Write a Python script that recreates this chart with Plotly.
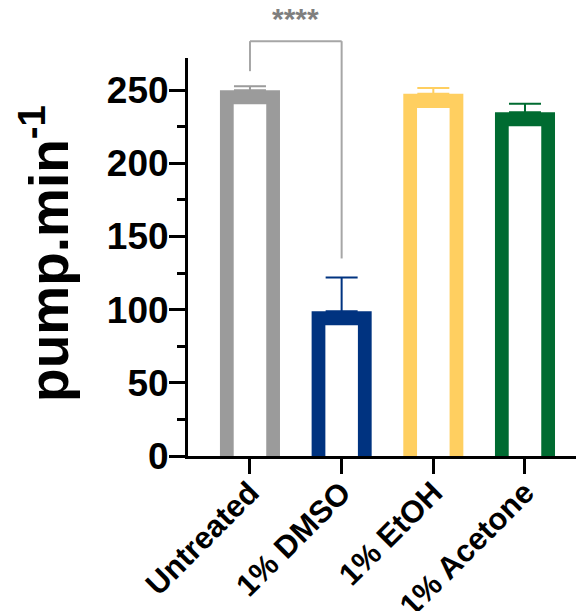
import plotly.graph_objects as go

# ---- data ----
categories = ["Untreated", "1% DMSO", "1% EtOH", "1% Acetone"]
means = [250, 99, 247.5, 235]
errors = [2.7, 23, 4, 5.7]
colors = ["#9B9B9B", "#003380", "#FFCF60", "#006B31"]
y_ticks = [0, 50, 100, 150, 200, 250]
sig_label = "****"
sig_pair = [0, 1]
bracket_top = 283.5
bracket_left_end = 263
bracket_right_end = 135

# ---- style ----
YMAX = 272
BORDER = 9.6          # bar outline thickness in data units
FONT = "Liberation Sans, Arial, sans-serif"

xpos = list(range(len(categories)))
fig = go.Figure()
for i, cat in enumerate(categories):
    fig.add_trace(go.Bar(
        x=[xpos[i]], y=[means[i]], width=0.655,
        marker=dict(color=colors[i], line=dict(width=0)),
        error_y=dict(type="data", array=[errors[i]], arrayminus=[0], symmetric=False,
                     color=colors[i], thickness=2, width=16),
        hoverinfo="skip",
    ))
    fig.add_trace(go.Bar(
        x=[xpos[i]], y=[means[i] - BORDER], width=0.355,
        marker=dict(color="white", line=dict(width=0)),
        hoverinfo="skip",
    ))

# significance bracket
line_style = dict(color="#A6A6A6", width=2)
x0, x1 = sig_pair
fig.add_shape(type="line", xref="x", yref="y domain", x0=x0, x1=x0,
              y0=bracket_left_end / YMAX, y1=bracket_top / YMAX, line=line_style)
fig.add_shape(type="line", xref="x", yref="y domain", x0=x0, x1=x1,
              y0=bracket_top / YMAX, y1=bracket_top / YMAX, line=line_style)
fig.add_shape(type="line", xref="x", yref="y domain", x0=x1, x1=x1,
              y0=bracket_right_end / YMAX, y1=bracket_top / YMAX, line=line_style)
fig.add_annotation(x=(x0 + x1) / 2, xref="x", y=bracket_top / YMAX, yref="y domain",
                   text=sig_label, showarrow=False, yanchor="bottom", yshift=4,
                   font=dict(family=FONT, size=30, color="#7F7F7F", weight="bold"))

# y title
fig.add_annotation(text="<b>pump.min<sup>-1</sup></b>", textangle=-90,
                   xref="paper", yref="paper", x=-0.364, y=0.51,
                   xanchor="center", yanchor="middle", showarrow=False,
                   font=dict(family=FONT, size=55, color="black"))

fig.update_layout(
    width=576, height=603,
    margin=dict(l=180, r=3, t=50, b=155, autoexpand=False),
    plot_bgcolor="white", paper_bgcolor="white",
    barmode="overlay", showlegend=False,
    font=dict(family=FONT, color="black"),
)
fig.update_xaxes(
    automargin=False,
    range=[-0.676, 3.611], tickmode="array", tickvals=xpos, ticktext=categories,
    tickangle=-45, ticks="outside", ticklen=15, tickwidth=3, tickcolor="black",
    ticklabelstandoff=-12,
    showline=True, linewidth=3, linecolor="black", showgrid=False, zeroline=False,
    tickfont=dict(family=FONT, size=31, color="black", weight="bold"),
)
fig.update_yaxes(
    automargin=False,
    range=[0, YMAX], tickmode="array", tickvals=y_ticks,
    ticks="outside", ticklen=16, tickwidth=3, tickcolor="black",
    ticklabelstandoff=-7,
    minor=dict(dtick=25, tick0=0, ticks="outside", ticklen=8, tickwidth=3,
               tickcolor="black", showgrid=False),
    showline=True, linewidth=3, linecolor="black", showgrid=False, zeroline=False,
    tickfont=dict(family=FONT, size=37, color="black", weight="bold"),
)

fig.write_html("out.html")
